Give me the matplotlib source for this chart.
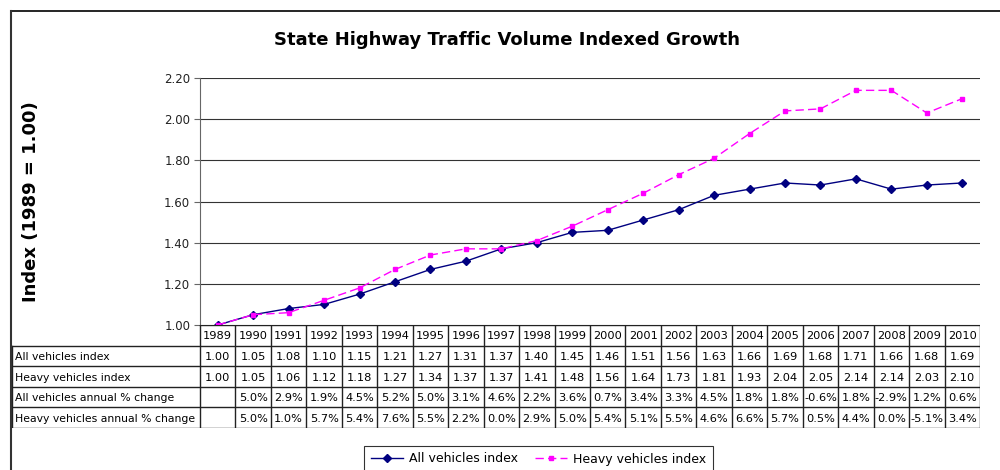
import matplotlib
matplotlib.use('Agg')
import matplotlib.pyplot as plt
from matplotlib.lines import Line2D
import numpy as np

years = [1989, 1990, 1991, 1992, 1993, 1994, 1995, 1996, 1997, 1998, 1999,
         2000, 2001, 2002, 2003, 2004, 2005, 2006, 2007, 2008, 2009, 2010]
all_index = [1.00, 1.05, 1.08, 1.10, 1.15, 1.21, 1.27, 1.31, 1.37, 1.40, 1.45,
             1.46, 1.51, 1.56, 1.63, 1.66, 1.69, 1.68, 1.71, 1.66, 1.68, 1.69]
heavy_index = [1.00, 1.05, 1.06, 1.12, 1.18, 1.27, 1.34, 1.37, 1.37, 1.41, 1.48,
               1.56, 1.64, 1.73, 1.81, 1.93, 2.04, 2.05, 2.14, 2.14, 2.03, 2.10]
all_change = ['', '5.0%', '2.9%', '1.9%', '4.5%', '5.2%', '5.0%', '3.1%', '4.6%', '2.2%', '3.6%',
              '0.7%', '3.4%', '3.3%', '4.5%', '1.8%', '1.8%', '-0.6%', '1.8%', '-2.9%', '1.2%', '0.6%']
heavy_change = ['', '5.0%', '1.0%', '5.7%', '5.4%', '7.6%', '5.5%', '2.2%', '0.0%', '2.9%', '5.0%',
                '5.4%', '5.1%', '5.5%', '4.6%', '6.6%', '5.7%', '0.5%', '4.4%', '0.0%', '-5.1%', '3.4%']
row_labels = ['All vehicles index', 'Heavy vehicles index',
              'All vehicles annual % change', 'Heavy vehicles annual % change']

W, H = 1000, 470
fig = plt.figure(figsize=(10, 4.7), dpi=100)

# outer frame (top and left edges visible)
fig.add_artist(Line2D([11/W, 1.0], [1-11/H, 1-11/H], color='black', lw=1.2))
fig.add_artist(Line2D([11/W, 11/W], [0, 1-11/H], color='#333333', lw=1.5))

# chart area
ax = fig.add_axes([200/W, 1-325/H, 780/W, (325-78)/H])
ax.plot(years, all_index, color='#000080', lw=1, marker='D', ms=4,
        label='All vehicles index')
ax.plot(years, heavy_index, color='#FF00FF', lw=1, ls=(0, (6, 3)), marker='s', ms=3.5,
        label='Heavy vehicles index')
ax.set_xlim(1988.5, 2010.5)
ax.set_ylim(1.0, 2.2)
ax.set_yticks(np.arange(1.0, 2.21, 0.2))
ax.set_yticklabels(['%.2f' % v for v in np.arange(1.0, 2.21, 0.2)], fontsize=8.5, color='#222222')
ax.set_xticks([])
ax.yaxis.grid(True, color='#333333', lw=0.8)
ax.set_axisbelow(True)
for s in ['top', 'right', 'bottom']:
    ax.spines[s].set_visible(False)
ax.spines['left'].set_color('#666666')
ax.tick_params(axis='y', length=4, color='#666666', pad=3)
ax.set_ylabel('Index (1989 = 1.00)', fontsize=13, fontweight='bold')
ax.yaxis.set_label_coords(-0.205, 0.5)

fig.text(507/W, 1-40/H, 'State Highway Traffic Volume Indexed Growth',
         ha='center', va='center', fontsize=13, fontweight='bold')

# data table beneath the chart
col_w = 780 / 22
lab_cols = 188 / col_w
tab = fig.add_axes([12/W, 1-428/H, 968/W, (428-325)/H])
tab.set_xlim(1988.5 - lab_cols, 2010.5)
tab.set_ylim(5, 0)
tab.axis('off')
x0 = 1988.5 - lab_cols
edges = [y - 0.5 for y in years] + [2010.5]
lc = '#222222'
tab.plot([1988.5, 2010.5], [0, 0], color=lc, lw=1)
for r in range(1, 6):
    tab.plot([x0, 2010.5], [r, r], color=lc, lw=1)
for e in edges:
    tab.plot([e, e], [0, 5], color=lc, lw=1)
tab.plot([x0, x0], [1, 5], color=lc, lw=1)

rows = [['%.2f' % v for v in all_index], ['%.2f' % v for v in heavy_index],
        all_change, heavy_change]
fs = 8.2
for i, yr in enumerate(years):
    tab.text(yr, 0.55, str(yr), ha='center', va='center', fontsize=fs)
    for r, vals in enumerate(rows):
        tab.text(yr, r + 1.55, vals[i], ha='center', va='center', fontsize=fs)
for r, lab in enumerate(row_labels):
    tab.text(x0 + 0.08, r + 1.55, lab, ha='left', va='center', fontsize=7.8)

leg = fig.legend(loc='upper left', bbox_to_anchor=(358/W, 1-440/H), ncol=2,
                 fontsize=9, frameon=True, fancybox=False, edgecolor='black',
                 handlelength=2.6, columnspacing=1.3, handletextpad=0.5, borderpad=0.5)
leg.get_frame().set_linewidth(0.8)

fig.savefig('out.png', dpi=100)
